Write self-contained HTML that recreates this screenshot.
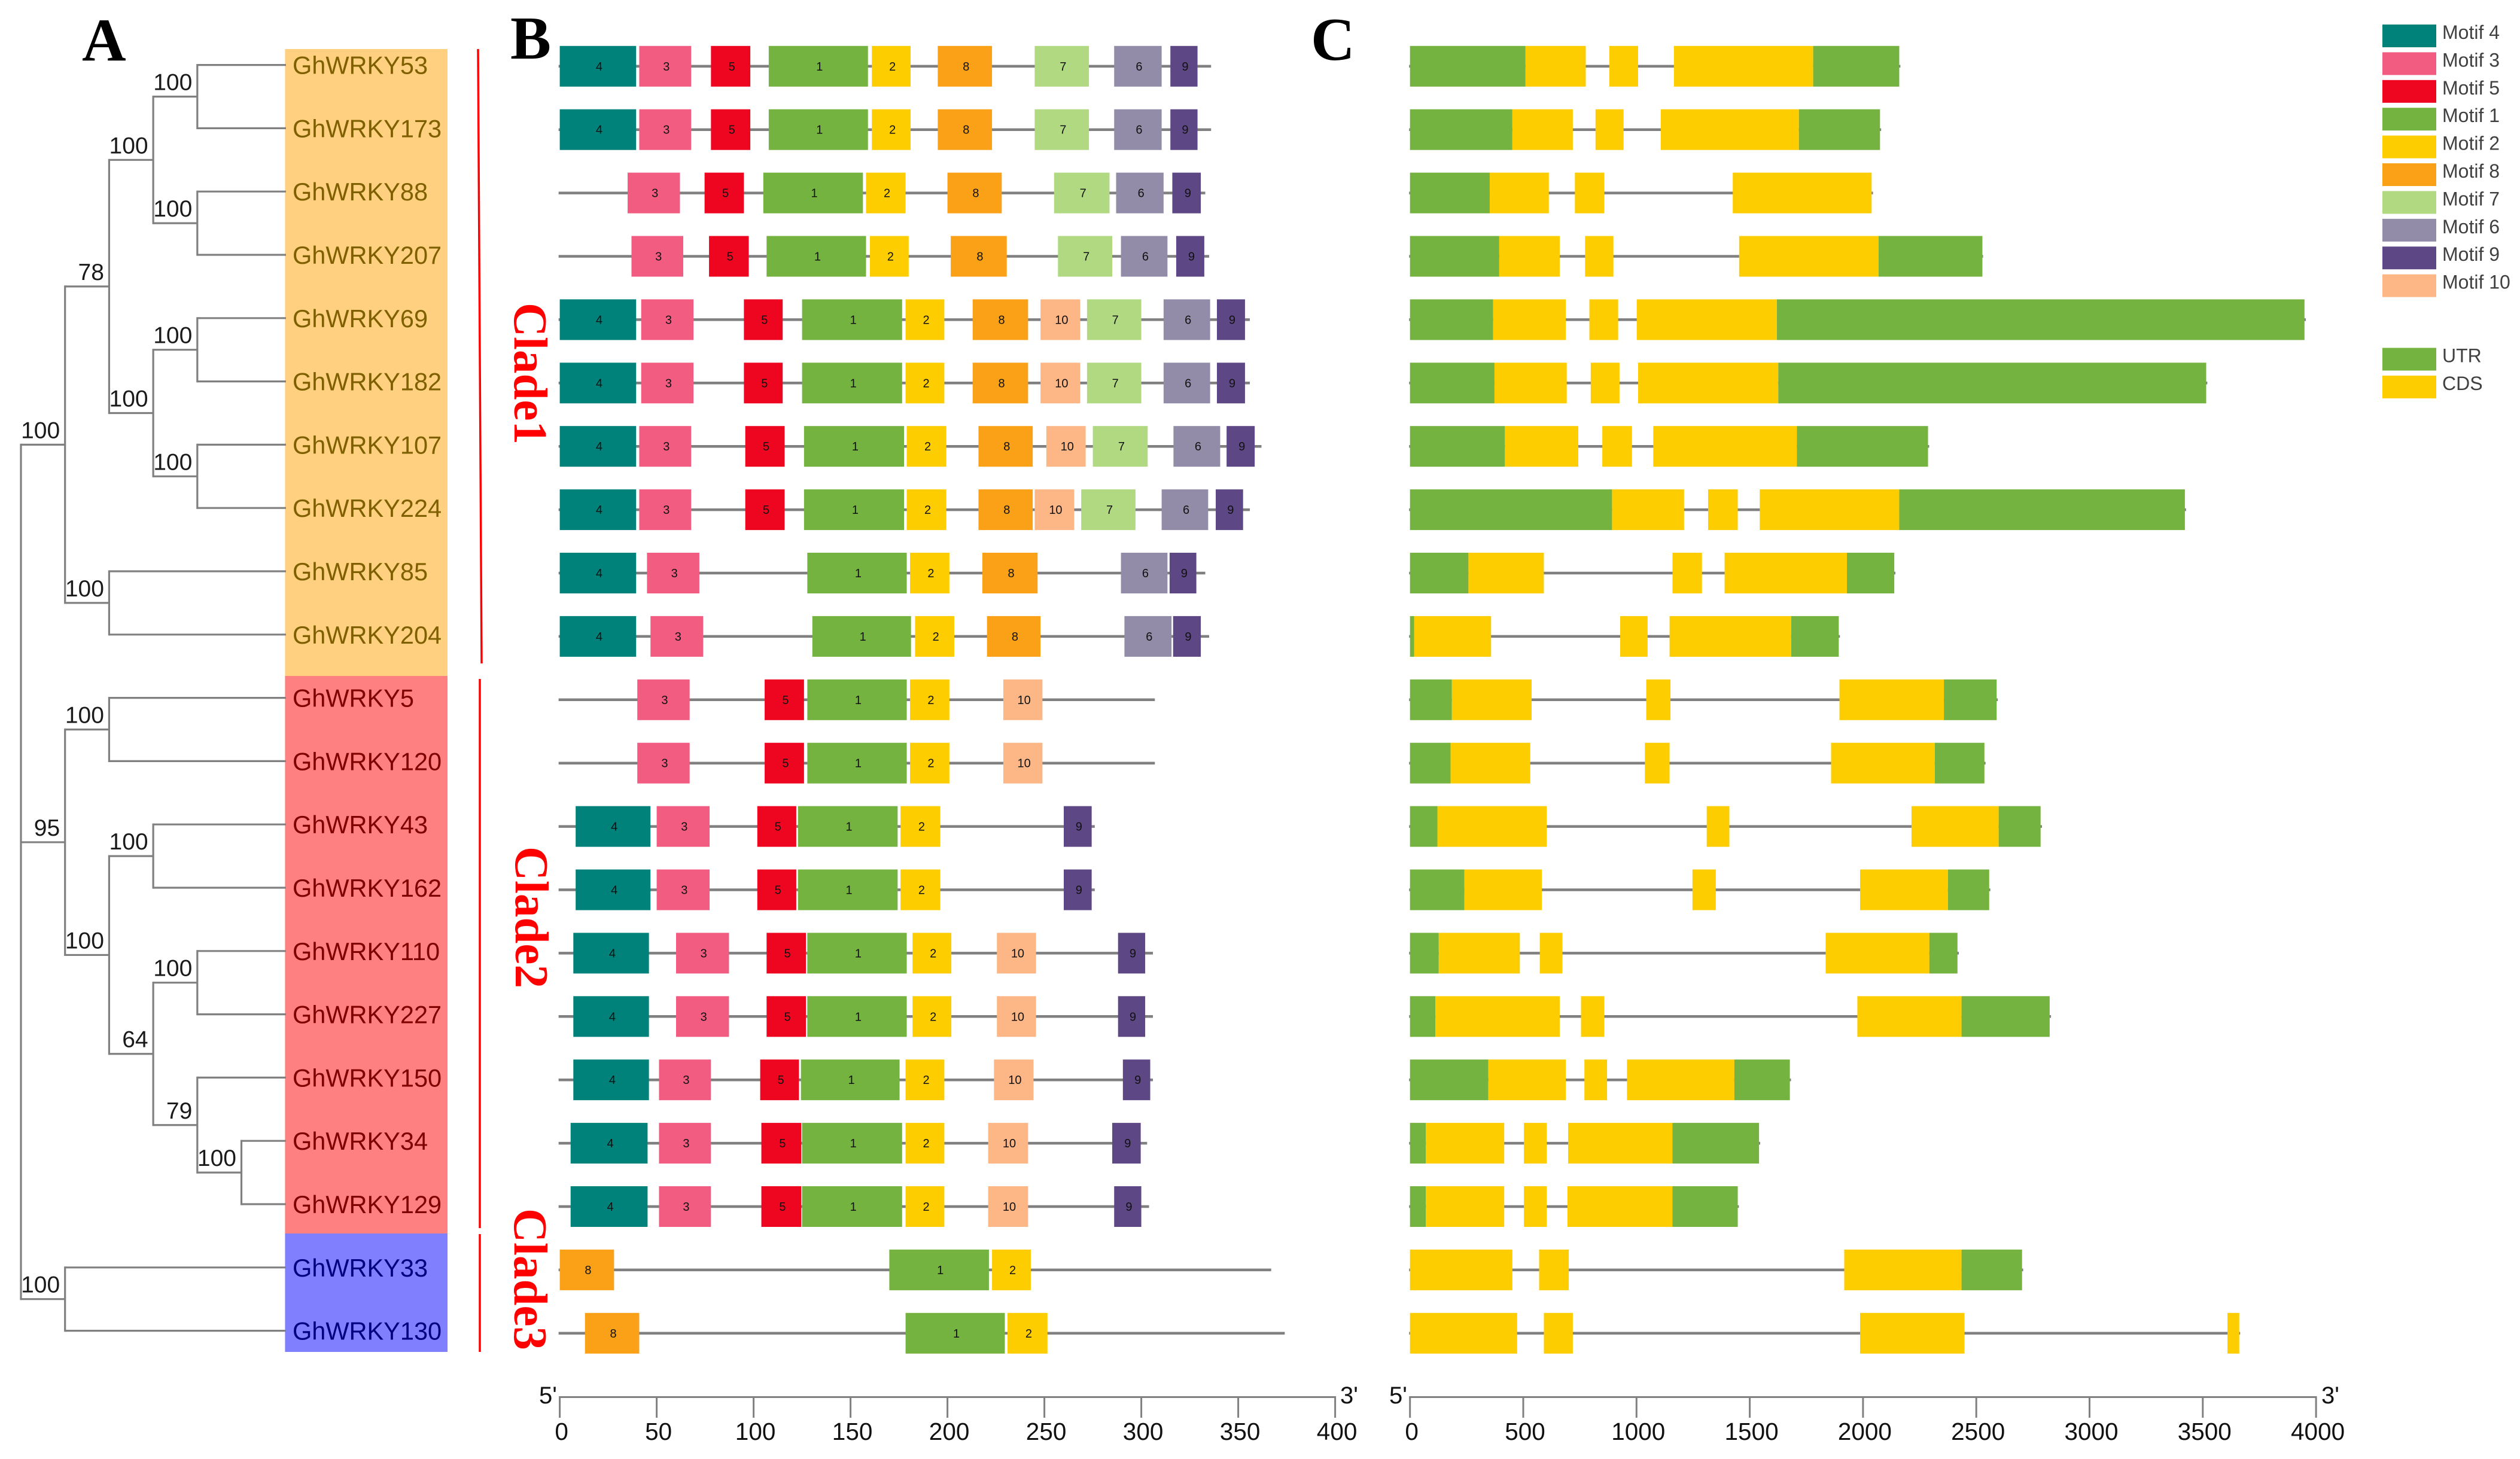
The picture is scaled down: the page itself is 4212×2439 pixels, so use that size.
<!DOCTYPE html>
<html lang="en">
<head>
<meta charset="utf-8">
<title>GhWRKY phylogeny, conserved motifs and gene structure</title>
<style>
html,body{margin:0;padding:0;background:#fff;width:4212px;height:2439px;overflow:hidden}
svg{display:block}
text{font-family:"Liberation Sans",sans-serif}
.serif{font-family:"Liberation Serif",serif;font-weight:bold}
</style>
</head>
<body>
<svg id="figure" xmlns="http://www.w3.org/2000/svg" width="4212" height="2439" viewBox="0 0 4212 2439">
  <rect x="0" y="0" width="4212" height="2439" fill="#ffffff"/>
  <text class="serif" x="137" y="101" font-size="102" fill="#000">A</text>
  <text class="serif" x="853" y="98" font-size="102" fill="#000">B</text>
  <text class="serif" x="2191" y="100" font-size="102" fill="#000">C</text>
  <rect x="476.4" y="82" width="271.6" height="1048" fill="#FFD07F"/>
  <rect x="476.4" y="1130" width="271.6" height="932" fill="#FF8080"/>
  <rect x="476.4" y="2062" width="271.6" height="198" fill="#8080FF"/>
  <line x1="799" y1="82" x2="805" y2="1109" stroke="#f00" stroke-width="3.5"/>
  <line x1="802" y1="1135" x2="802" y2="2053" stroke="#f00" stroke-width="3.5"/>
  <line x1="802" y1="2063" x2="802" y2="2260" stroke="#f00" stroke-width="3.5"/>
  <text class="serif" transform="translate(860,506) rotate(90)" font-size="79" fill="#f00">Clade1</text>
  <text class="serif" transform="translate(862,1415) rotate(90)" font-size="79" fill="#f00">Clade2</text>
  <text class="serif" transform="translate(860,2020) rotate(90)" font-size="79" fill="#f00">Clade3</text>
  <g id="tree"></g>
  <g id="labels"></g>
  <g id="motifs"></g>
  <g id="structure"></g>
  <g id="axes"></g>
  <g id="legend"></g>
</svg>
<script>
const geneNames = ["GhWRKY53","GhWRKY173","GhWRKY88","GhWRKY207","GhWRKY69","GhWRKY182","GhWRKY107","GhWRKY224","GhWRKY85","GhWRKY204","GhWRKY5","GhWRKY120","GhWRKY43","GhWRKY162","GhWRKY110","GhWRKY227","GhWRKY150","GhWRKY34","GhWRKY129","GhWRKY33","GhWRKY130"];

const labelColors = ["#7f6000","#7f6000","#7f6000","#7f6000","#7f6000","#7f6000","#7f6000","#7f6000","#7f6000","#7f6000","#800000","#800000","#800000","#800000","#800000","#800000","#800000","#800000","#800000","#000080","#000080"];

/* nested tree: [bootstrap, child, child ...]; a number is a gene row */
const treeTopology = [null,
  [100,[78,[100,[100,0,1],[100,2,3]],[100,[100,4,5],[100,6,7]]],[100,8,9]],
  [95,[100,10,11],[100,[100,12,13],[64,[100,14,15],[79,16,[100,17,18]]]]],
  [100,19,20]];

/* protein length (aa) */
const proteinLengths = [336,336,333,335,356,356,362,356,333,335,307,307,276,276,306,306,306,303,304,367,374];

/* motif id, start aa, end aa */
const motifPlacements = [
  [[4,0,39.4],[3,41,67.8],[5,78,98.3],[1,107.8,159],[2,161,181],[8,195,223],[7,245,273],[6,286,310.5],[9,315,329]],
  [[4,0,39.4],[3,41,67.8],[5,78,98.3],[1,107.8,159],[2,161,181],[8,195,223],[7,245,273],[6,286,310.5],[9,315,329]],
  [[3,35,62],[5,74.7,95],[1,105,156.4],[2,158,178.4],[8,200,228],[7,255,283.6],[6,287,311.5],[9,316,330.7]],
  [[3,37,63.7],[5,77,97.5],[1,106.7,158],[2,160,180],[8,201.7,230.6],[7,257,285],[6,289.5,313.5],[9,318,332.5]],
  [[4,0,39.4],[3,42,69],[5,95,115],[1,125,176.6],[2,178.4,198.4],[8,213,241.6],[10,248,268.5],[7,272,300],[6,311.5,335.5],[9,339,353.5]],
  [[4,0,39.4],[3,42,69],[5,95,115],[1,125,176.6],[2,178.4,198.4],[8,213,241.6],[10,248,268.5],[7,272,300],[6,311.5,335.5],[9,339,353.5]],
  [[4,0,39.4],[3,41,67.8],[5,95.7,116],[1,126,177.6],[2,179,199.4],[8,216,244],[10,251,271.3],[7,275,303.3],[6,316.6,340.7],[9,344,358.5]],
  [[4,0,39.4],[3,41,67.8],[5,95.7,116],[1,126,177.6],[2,179,199.4],[8,216,244],[10,245,265.4],[7,269,297],[6,310.5,334.5],[9,338.4,352.5]],
  [[4,0,39.4],[3,45,72],[1,127.7,179],[2,180.7,201],[8,218,246.5],[6,289.5,313.5],[9,314.6,328.4]],
  [[4,0,39.4],[3,46.8,74],[1,130.3,181.2],[2,183.3,203.5],[8,220.4,248],[6,291.3,315.6],[9,316.4,330.7]],
  [[3,40,67],[5,105.7,126],[1,127.7,179],[2,180.7,201],[10,228.8,249]],
  [[3,40,67],[5,105.7,126],[1,127.7,179],[2,180.7,201],[10,228.8,249]],
  [[4,8.2,46.8],[3,50,77.3],[5,101.9,122],[1,122.9,174.3],[2,175.8,196.3],[9,260,274.4]],
  [[4,8.2,46.8],[3,50,77.3],[5,101.9,122],[1,122.9,174.3],[2,175.8,196.3],[9,260,274.4]],
  [[4,7,46],[3,60,87.3],[5,106.7,127],[1,127.7,179],[2,182,202],[10,225.5,245.7],[9,288,302]],
  [[4,7,46],[3,60,87.3],[5,106.7,127],[1,127.7,179],[2,182,202],[10,225.5,245.7],[9,288,302]],
  [[4,7,46],[3,51.2,78],[5,103.4,123.4],[1,124.4,175.3],[2,178.4,198.4],[10,224,244.4],[9,290.5,304.6]],
  [[4,5.6,45.3],[3,51.2,78],[5,104,124.6],[1,125,176.6],[2,178.4,198.4],[10,221,241.6],[9,285,299.7]],
  [[4,5.6,45.3],[3,51.2,78],[5,104,124.6],[1,125,176.6],[2,178.4,198.4],[10,221,241.6],[9,286,300]],
  [[8,0,28],[1,170,221.4],[2,223,243]],
  [[8,13,41],[1,178.4,229.6],[2,231,251.6]]
];

/* gene length (bp) */
const geneLengths = [2165,2080,2044,2530,3955,3520,2292,3426,2143,1898,2595,2541,2790,2562,2423,2830,1682,1546,1452,2707,3665];

/* feature type, start bp, end bp */
const geneFeatures = [
  [["UTR",0,510],["CDS",510,776],["CDS",880,1007],["CDS",1165,1780],["UTR",1780,2160]],
  [["UTR",0,452],["CDS",452,719],["CDS",819,943],["CDS",1107,1717],["UTR",1717,2075]],
  [["UTR",0,352],["CDS",352,613],["CDS",728,858],["CDS",1425,2038]],
  [["UTR",0,394],["CDS",394,661],["CDS",773,898],["CDS",1453,2069],["UTR",2069,2527]],
  [["UTR",0,367],["CDS",367,688],["CDS",792,919],["CDS",1001,1620],["UTR",1620,3949]],
  [["UTR",0,373],["CDS",373,692],["CDS",798,925],["CDS",1007,1626],["UTR",1626,3515]],
  [["UTR",0,419],["CDS",419,743],["CDS",849,980],["CDS",1074,1708],["UTR",1708,2287]],
  [["UTR",0,892],["CDS",892,1210],["CDS",1316,1447],["CDS",1544,2160],["UTR",2160,3421]],
  [["UTR",0,258],["CDS",258,591],["CDS",1159,1289],["CDS",1389,1929],["UTR",1929,2138]],
  [["UTR",0,18],["CDS",18,358],["CDS",928,1049],["CDS",1146,1683],["UTR",1683,1893]],
  [["UTR",0,185],["CDS",185,537],["CDS",1043,1150],["CDS",1896,2357],["UTR",2357,2590]],
  [["UTR",0,179],["CDS",179,531],["CDS",1037,1146],["CDS",1859,2317],["UTR",2317,2536]],
  [["UTR",0,121],["CDS",121,604],["CDS",1310,1410],["CDS",2214,2599],["UTR",2599,2784]],
  [["UTR",0,240],["CDS",240,582],["CDS",1247,1350],["CDS",1987,2375],["UTR",2375,2557]],
  [["UTR",0,127],["CDS",127,485],["CDS",573,673],["CDS",1835,2293],["UTR",2293,2417]],
  [["UTR",0,112],["CDS",112,661],["CDS",755,858],["CDS",1975,2435],["UTR",2435,2824]],
  [["UTR",0,346],["CDS",346,688],["CDS",770,870],["CDS",958,1432],["UTR",1432,1677]],
  [["UTR",0,70],["CDS",70,416],["CDS",503,604],["CDS",698,1159],["UTR",1159,1541]],
  [["UTR",0,70],["CDS",70,416],["CDS",503,604],["CDS",695,1159],["UTR",1159,1447]],
  [["CDS",0,452],["CDS",570,701],["CDS",1917,2435],["UTR",2435,2702]],
  [["CDS",0,473],["CDS",591,719],["CDS",1987,2448],["CDS",3609,3661]]
];

const motifTicks = [0,50,100,150,200,250,300,350,400];
const geneTicks = [0,500,1000,1500,2000,2500,3000,3500,4000];

const legendMotifs = [4,3,5,1,2,8,7,6,9,10];
const legendMotifLabels = ["Motif 4","Motif 3","Motif 5","Motif 1","Motif 2","Motif 8","Motif 7","Motif 6","Motif 9","Motif 10"];
const legendFeatures = ["UTR","CDS"];

const motifColors = {4:"#00817A",3:"#F15C80",5:"#EE0620",1:"#74B33F",2:"#FDCD00",8:"#FBA117",7:"#B0D981",6:"#938CA8",9:"#5E4785",10:"#FDB786"};
const featureColors = {UTR:"#74B33F",CDS:"#FDCD00"};

const NS = "http://www.w3.org/2000/svg";
const GREY = "#808080";
function make(parent, tag, attrs, content) {
  const el = document.createElementNS(NS, tag);
  for (const k in attrs) el.setAttribute(k, attrs[k]);
  if (content !== undefined) el.textContent = content;
  parent.appendChild(el);
  return el;
}
function slug(s) { return String(s).toLowerCase().replace(/[^a-z0-9]+/g, '-'); }

const xMotif = u => 935.6 + 3.24 * u;
const xGene = u => 2356.7 + 0.3786 * u;
const yRow = i => 110.8 + 105.9 * i;
const yLeaf = i => 108.6 + 105.8 * i;
const xDepth = d => 35 + 73.7 * d;
const LEAF_X = 478;
const BOX_H = 68;

/* tree */
const treeG = document.getElementById('tree');
function hline(x1, x2, y) {
  const el = make(treeG, 'line', {x1: x1, y1: y, x2: x2, y2: y, stroke: GREY, 'stroke-width': 3.2});
  
  
}
function vline(x, y1, y2) {
  const el = make(treeG, 'line', {x1: x, y1: y1 - 1.6, x2: x, y2: y2 + 1.6, stroke: GREY, 'stroke-width': 3.2});
  
  
}
function layoutTree(node, depth) {
  if (typeof node === 'number') return yLeaf(node);
  const x = xDepth(depth);
  const ys = [];
  for (let c = 1; c < node.length; c++) {
    const child = node[c];
    const y = layoutTree(child, depth + 1);
    ys.push(y);
    hline(x, typeof child === 'number' ? LEAF_X : xDepth(depth + 1), y);
  }
  const top = ys[0], bottom = ys[ys.length - 1];
  vline(x, top, bottom);
  const mid = (top + bottom) / 2;
  if (node[0] !== null) {
    const t = make(treeG, 'text', {x: x - 8.5, y: mid - 11, 'text-anchor': 'end', 'font-size': 39, fill: '#1a1a1a'}, node[0]);
    
    
  }
  return mid;
}
layoutTree(treeTopology, 0);

/* gene labels */
const labelsG = document.getElementById('labels');
geneNames.forEach((name, i) => {
  const t = make(labelsG, 'text', {x: 489, y: yLeaf(i) + 15, 'font-size': 41.5, fill: labelColors[i]}, name);
  
  
});

/* motif panel */
const motifsG = document.getElementById('motifs');
geneNames.forEach((name, i) => {
  const y = yRow(i);
  const line = make(motifsG, 'line', {x1: xMotif(-0.6), y1: y, x2: xMotif(proteinLengths[i]), y2: y, stroke: GREY, 'stroke-width': 4.5});
  
  
  motifPlacements[i].forEach(m => {
    const x1 = xMotif(m[1]), x2 = xMotif(m[2]);
    const r = make(motifsG, 'rect', {x: x1, y: y - BOX_H / 2, width: x2 - x1, height: BOX_H, fill: motifColors[m[0]]});
    
    
    const t = make(motifsG, 'text', {x: (x1 + x2) / 2 + 2, y: y + 7, 'text-anchor': 'middle', 'font-size': 20, fill: '#111'}, m[0]);
    
    
  });
});

/* gene structure panel */
const structureG = document.getElementById('structure');
geneNames.forEach((name, i) => {
  const y = yRow(i);
  const line = make(structureG, 'line', {x1: xGene(-4), y1: y, x2: xGene(geneLengths[i]), y2: y, stroke: GREY, 'stroke-width': 4.5});
  
  
  geneFeatures[i].forEach(f => {
    const x1 = xGene(f[1]), x2 = xGene(f[2]);
    const r = make(structureG, 'rect', {x: x1, y: y - BOX_H / 2, width: x2 - x1, height: BOX_H, fill: featureColors[f[0]]});
    
    
  });
});

/* axes */
const axesG = document.getElementById('axes');
const AXIS_Y = 2335.5, TICK_Y = 2370, LABEL_Y = 2407, END_Y = 2346;
function drawAxis(prefix, scale, ticks, fivePrimeX, threePrimeX) {
  const base = make(axesG, 'line', {x1: scale(ticks[0]) - 1.5, y1: AXIS_Y, x2: scale(ticks[ticks.length - 1]) + 1.5, y2: AXIS_Y, stroke: GREY, 'stroke-width': 3});
  
  
  ticks.forEach(v => {
    const tick = make(axesG, 'line', {x1: scale(v), y1: AXIS_Y, x2: scale(v), y2: TICK_Y, stroke: GREY, 'stroke-width': 3});
    
    
    const lab = make(axesG, 'text', {x: scale(v) + 3, y: LABEL_Y, 'text-anchor': 'middle', 'font-size': 40.5, fill: '#111'}, v);
    
    
  });
  const five = make(axesG, 'text', {x: fivePrimeX, y: END_Y, 'font-size': 40, fill: '#111'}, "5'");
  
  
  const three = make(axesG, 'text', {x: threePrimeX, y: END_Y, 'font-size': 40, fill: '#111'}, "3'");
  
  
}
drawAxis('motif', xMotif, motifTicks, 901, 2240);
drawAxis('gene', xGene, geneTicks, 2322, 3880);

/* legend */
const legendG = document.getElementById('legend');
function legendEntry(top, color, label) {
  const r = make(legendG, 'rect', {x: 3982, y: top, width: 90, height: 38, fill: color});
  
  
  const t = make(legendG, 'text', {x: 4082, y: top + 24, 'font-size': 32, fill: '#404040'}, label);
  
  
}
legendMotifs.forEach((m, i) => legendEntry(41 + 46.4 * i, motifColors[m], legendMotifLabels[i]));
legendFeatures.forEach((f, i) => legendEntry(581.5 + 46.4 * i, featureColors[f], f));
</script>
</body>
</html>
